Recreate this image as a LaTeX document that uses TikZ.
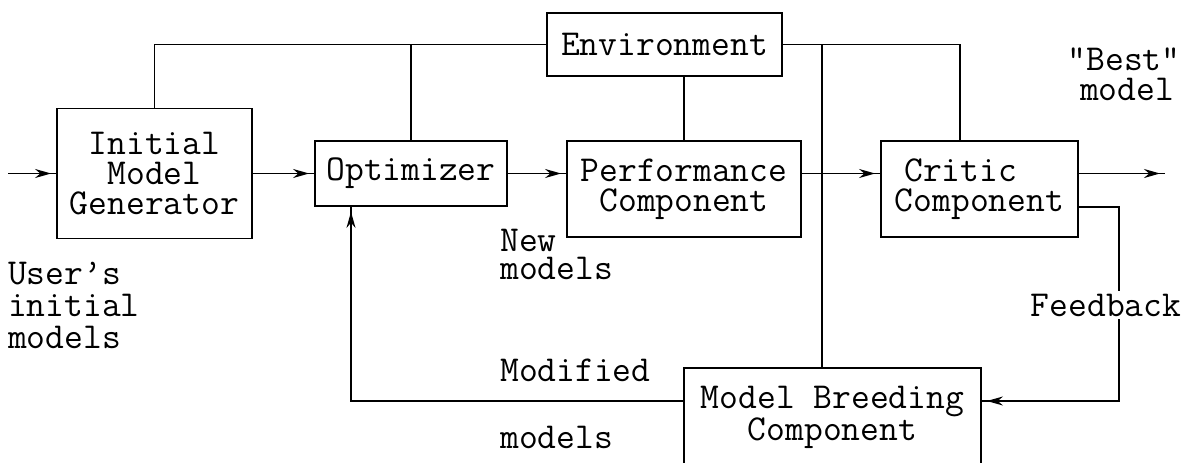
\documentclass[tikz,border=0pt]{standalone}
\usetikzlibrary{arrows.meta,decorations.markings}
\newcommand\dfont{\ttfamily\fontsize{36.5}{30}\selectfont}
\tikzset{
  box/.style={draw, line width=1.8pt, inner sep=0pt, align=center, font=\dfont},
  ln/.style={line width=1.8pt},
  flow/.style={ln, postaction={decorate},
    decoration={markings, mark=at position -5pt with {\arrow{Stealth[length=16pt,width=9pt]}}}},
  lbl/.style={inner sep=0pt, font=\dfont, align=left}
}
\begin{document}
\begin{tikzpicture}[x=1pt,y=-1pt]
\fill[white] (0,0) rectangle (1189,463);
\useasboundingbox (0,0) rectangle (1189,463);
\clip (0,0) rectangle (1189,463);

% boxes
\node[box, minimum width=195pt, minimum height=130pt] (img) at (154.5,173.5) {Initial\\Model\\Generator};
\node[box, minimum width=192pt, minimum height=65pt] (opt) at (411,173.5) {Optimizer};
\node[box, minimum width=234pt, minimum height=96pt] (perf) at (684,189) {Performance\\Component};
\node[box, minimum width=197pt, minimum height=96pt] (crit) at (979.5,189) {Critic\hphantom{xx}\\Component};
\node[box, minimum width=235pt, minimum height=63pt] (env) at (664.5,44.5) {Environment};
\node[box, minimum width=297pt, minimum height=99pt] (mb) at (832.5,417.5) {Model Breeding\\Component};

% free ends / corners
\coordinate (in) at (8,173.5);
\coordinate (out) at (1165,173.5);
\coordinate (fbc) at (1119,401);
\coordinate (mc) at (351,401);

% main flow
\draw[flow] (in) -- (img.west);
\draw[flow] (img.east) -- (opt.west);
\draw[flow] (opt.east) -- (perf.west |- opt.east);
\draw[flow] (perf.east |- opt.east) -- (crit.west |- opt.east);
\draw[flow] (crit.east |- opt.east) -- (out);

% environment links
\draw[ln] (img.north) |- (env.west);
\draw[ln] (opt.north) -- (opt.north |- env.west);
\draw[ln] (env.east) -| ([xshift=-19.5pt]crit.north);
\draw[ln] (perf.north) -- (perf.north |- env.south);
\draw[ln] ([xshift=-10.5pt]mb.north) -- ([xshift=-10.5pt]mb.north |- env.east);

% feedback and modified models
\draw[flow] ([yshift=-18pt]crit.east) -| (fbc) -- (mb.east |- fbc);
\draw[flow] (mb.west |- mc) -- (mc) -- (mc |- opt.south);

% labels
\node[lbl, fill=white, inner sep=3pt] (fb) at (1106,305) {Feedback};
\node[lbl] (best) at (1124,59) {"Best"};
\node[lbl] (bestm) at (1127,89) {model};
\node[lbl, anchor=west] (new) at (500,240) {New};
\node[lbl, anchor=west] (newm) at (500,268) {models};
\node[lbl, anchor=west] (mod) at (500,370) {Modified};
\node[lbl, anchor=west] (modm) at (500,437) {models};
\node[lbl, anchor=west, font=\ttfamily\fontsize{36.5}{32}\selectfont] (user) at (8,305) {User’s\\initial\\models};
\end{tikzpicture}
\end{document}
